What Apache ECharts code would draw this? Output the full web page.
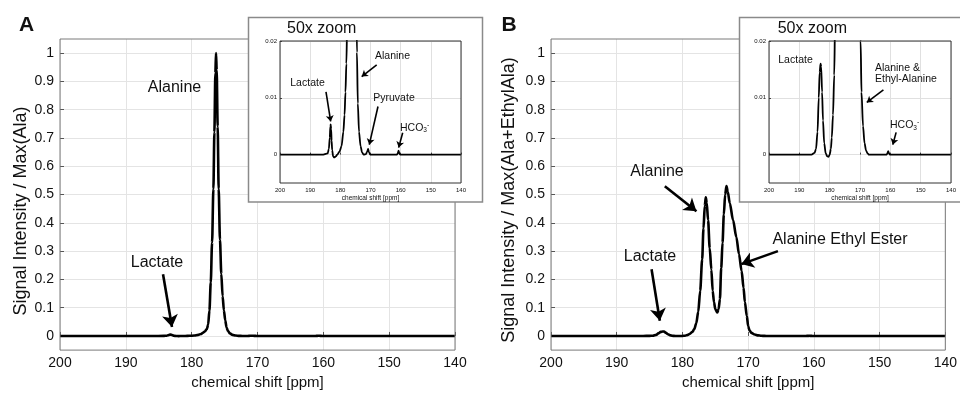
<!DOCTYPE html>
<html><head><meta charset="utf-8">
<script src="https://cdn.jsdelivr.net/npm/echarts@6/dist/echarts.min.js"></script>
<style>html,body{margin:0;padding:0;background:#fff}#c{width:960px;height:395px}</style>
</head><body><div id="c"></div>
<script>
// ---- data ----
const ppmA = [200, 186, 184.2, 183.8, 183.5, 183.3, 183.2, 183.05, 182.9, 182.7, 182.4, 182.0, 181.5, 181.0, 180.3, 179.6, 179.0, 178.6, 178.3, 178.0, 177.7, 177.5, 177.3, 177.1, 176.9, 176.7, 176.55, 176.4, 176.3, 176.2, 176.05, 175.9, 175.7, 175.5, 175.3, 175.1, 174.9, 174.7, 174.5, 174.2, 173.8, 173.3, 172.8, 172.3, 171.5, 171.1, 170.8, 170.5, 170.1, 165, 161.2, 160.9, 160.7, 160.5, 160.2, 140];
const sigA = [0, 0, 0.0002, 0.001, 0.003, 0.005, 0.0053, 0.0045, 0.0025, 0.0008, -0.0003, -0.0005, -0.0003, 0, 0.0005, 0.0015, 0.004, 0.007, 0.011, 0.016, 0.024, 0.04, 0.09, 0.19, 0.33, 0.52, 0.72, 0.93, 1.0, 0.94, 0.74, 0.52, 0.34, 0.22, 0.14, 0.09, 0.055, 0.03, 0.018, 0.009, 0.004, 0.0015, 0.0004, 0, 0.0001, 0.0005, 0.001, 0.0004, 0, 0, 0, 0.0003, 0.0007, 0.0003, 0, 0];
const ppmB = [200, 186, 185.0, 184.5, 184.0, 183.6, 183.3, 183.0, 182.8, 182.5, 182.2, 181.8, 181.3, 180.8, 180.4, 180.0, 179.6, 179.3, 178.9, 178.5, 178.2, 177.9, 177.6, 177.3, 177.0, 176.8, 176.6, 176.45, 176.3, 176.1, 175.85, 175.6, 175.4, 175.2, 175.0, 174.7, 174.5, 174.3, 174.1, 173.9, 173.7, 173.5, 173.3, 173.1, 172.8, 172.3, 171.8, 171.4, 171.0, 170.7, 170.5, 170.2, 170.0, 169.8, 169.5, 169.0, 168.5, 168.0, 167.5, 167.0, 161.2, 160.9, 160.7, 160.5, 160.2, 140];
const sigB = [0, 0, 0.0003, 0.001, 0.004, 0.010, 0.0145, 0.016, 0.0155, 0.011, 0.006, 0.002, 0.0002, -0.0003, -0.0004, 0, 0.001, 0.003, 0.007, 0.014, 0.024, 0.045, 0.085, 0.16, 0.27, 0.38, 0.46, 0.49, 0.47, 0.41, 0.31, 0.235, 0.16, 0.12, 0.095, 0.083, 0.095, 0.13, 0.24, 0.33, 0.43, 0.5, 0.53, 0.51, 0.47, 0.41, 0.35, 0.29, 0.23, 0.17, 0.12, 0.07, 0.035, 0.02, 0.011, 0.005, 0.002, 0.0007, 0.0002, 0, 0, 0.0003, 0.0006, 0.0003, 0, 0];

const xTicks = [200, 190, 180, 170, 160, 150, 140];
const yTicksMain = [0, 0.1, 0.2, 0.3, 0.4, 0.5, 0.6, 0.7, 0.8, 0.9, 1];
const yTicksInset = [0, 0.01, 0.02];

// arrows: [startPpm, startVal, endPpm, endVal]
const arrowsMainA = [[184.35, 0.218, 182.99, 0.032]];
const arrowsMainB = [[182.68, 0.529, 177.87, 0.441], [184.70, 0.236, 183.44, 0.054], [165.47, 0.300, 171.03, 0.254]];
const arrowsInsetA = [[184.75, 0.01105, 183.2, 0.00584], [167.95, 0.01579, 172.92, 0.01374], [167.52, 0.00847, 170.4, 0.00175], [159.33, 0.00386, 160.66, 0.00123]];
const arrowsInsetB = [[162.28, 0.0114, 167.76, 0.00918], [158.09, 0.00391, 159.18, 0.00175]];

const FONT = 'Liberation Sans, Arial, Helvetica, sans-serif';
const TXT = '#111';

function pairs(xs, ys) { return xs.map((x, i) => [x, ys[i]]); }
function arrowData(list) { return list.map(a => [{coord: [a[0], a[1]]}, {coord: [a[2], a[3]]}]); }
const fmt = v => String(Math.round(v * 1000) / 1000);

const grids = [
  {left: 60, top: 39, width: 395, height: 312, show: true, borderColor: '#7a7a7a', borderWidth: 1, backgroundColor: 'transparent', z: 5},
  {left: 280, top: 41, width: 181, height: 142, show: true, borderColor: '#333', borderWidth: 1, backgroundColor: 'transparent', zlevel: 1, z: 5},
  {left: 551, top: 39, width: 395, height: 312, show: true, borderColor: '#7a7a7a', borderWidth: 1, backgroundColor: 'transparent', z: 5},
  {left: 769, top: 41, width: 182, height: 142, show: true, borderColor: '#333', borderWidth: 1, backgroundColor: 'transparent', zlevel: 1, z: 5}
];

function xAxisMain(gi) {
  return {type: 'value', gridIndex: gi, min: 140, max: 200, interval: 10, inverse: true,
    axisLine: {show: false},
    axisTick: {show: true, inside: true, length: 4, lineStyle: {color: '#555'}},
    axisLabel: {fontSize: 14, color: TXT, margin: 6, fontFamily: FONT},
    splitLine: {show: true, lineStyle: {color: '#e4e4e4', width: 1}},
    name: 'chemical shift [ppm]', nameLocation: 'middle', nameGap: 24,
    nameTextStyle: {fontSize: 15, color: TXT, fontFamily: FONT}};
}
function yAxisMain(gi) {
  return {type: 'value', gridIndex: gi, min: -0.05, max: 1.05,
    axisLine: {show: false},
    axisTick: {show: true, inside: true, length: 4, lineStyle: {color: '#555'}, customValues: yTicksMain},
    axisLabel: {fontSize: 14, color: TXT, margin: 6, fontFamily: FONT, customValues: yTicksMain, formatter: fmt},
    splitLine: {show: true, lineStyle: {color: '#e4e4e4', width: 1}}};
}
function xAxisInset(gi) {
  return {type: 'value', gridIndex: gi, min: 140, max: 200, interval: 10, inverse: true, zlevel: 1, z: 3,
    axisLine: {show: false},
    axisTick: {show: true, inside: true, length: 2, lineStyle: {color: '#444'}},
    axisLabel: {fontSize: 6, color: TXT, margin: 4, fontFamily: FONT},
    splitLine: {show: true, lineStyle: {color: '#e0e0e0', width: 1}},
    name: 'chemical shift [ppm]', nameLocation: 'middle', nameGap: 12,
    nameTextStyle: {fontSize: 6.5, color: TXT, fontFamily: FONT}};
}
function yAxisInset(gi) {
  return {type: 'value', gridIndex: gi, min: -0.005, max: 0.02, zlevel: 1, z: 3,
    axisLine: {show: false},
    axisTick: {show: true, inside: true, length: 2, lineStyle: {color: '#444'}, customValues: yTicksInset},
    axisLabel: {fontSize: 6, color: TXT, margin: 3, fontFamily: FONT, customValues: yTicksInset, formatter: fmt},
    splitLine: {show: true, lineStyle: {color: '#e0e0e0', width: 1}}};
}

function spectrum(ai, data, width, arrows, arrowW, arrowSize, zlevel) {
  return {type: 'line', xAxisIndex: ai, yAxisIndex: ai, data: data, showSymbol: false,
    smooth: 0.3, smoothMonotone: 'x', clip: true, zlevel: zlevel, z: 4,
    lineStyle: {color: '#000', width: width}, silent: true,
    markLine: {silent: true, zlevel: zlevel, z: 6, symbol: ['none', 'arrow'], symbolSize: arrowSize, animation: false,
      lineStyle: {color: '#000', width: arrowW, type: 'solid'}, label: {show: false},
      emphasis: {disabled: true}, data: arrowData(arrows)}};
}

function text(str, x, y, size, opts) {
  opts = opts || {};
  return {type: 'text', x: x, y: y, zlevel: opts.zlevel || 0, z: 100, rotation: opts.rotation || 0,
    style: {text: str, fontSize: size, fontFamily: FONT, fill: TXT, fontWeight: opts.bold ? 'bold' : 'normal',
      align: opts.align || 'center', verticalAlign: 'middle', rich: opts.rich}};
}
const hcoRich = {
  b: {fontSize: 10.5, fontFamily: FONT, fill: TXT},
  s: {fontSize: 6.5, fontFamily: FONT, fill: TXT, padding: [6, 0, 0, 0]},
  p: {fontSize: 7, fontFamily: FONT, fill: TXT, padding: [0, 0, 6, 0]}
};

const chart = echarts.init(document.getElementById('c'), null, {renderer: 'canvas'});
chart.setOption({
  animation: false,
  backgroundColor: '#fff',
  grid: grids,
  xAxis: [xAxisMain(0), xAxisInset(1), xAxisMain(2), xAxisInset(3)],
  yAxis: [yAxisMain(0), yAxisInset(1), yAxisMain(2), yAxisInset(3)],
  series: [
    spectrum(0, pairs(ppmA, sigA), 2.6, arrowsMainA, 2.6, 12, 0),
    spectrum(1, pairs(ppmA, sigA), 1.8, arrowsInsetA, 1.6, 6, 1),
    spectrum(2, pairs(ppmB, sigB), 2.6, arrowsMainB, 2.6, 12, 0),
    spectrum(3, pairs(ppmB, sigB), 1.8, arrowsInsetB, 1.6, 6, 1)
  ],
  graphic: [
    {type: 'rect', zlevel: 1, z: 0, shape: {x: 248.5, y: 17.5, width: 234, height: 184.5},
      style: {fill: '#fff', stroke: '#8a8a8a', lineWidth: 1.5}},
    {type: 'rect', zlevel: 1, z: 0, shape: {x: 739.5, y: 17.5, width: 240, height: 184.5},
      style: {fill: '#fff', stroke: '#8a8a8a', lineWidth: 1.5}},
    text('A', 26.5, 25.5, 21, {bold: true}),
    text('B', 509, 25.5, 21, {bold: true}),
    text('Signal Intensity / Max(Ala)', 21.5, 211, 18, {rotation: Math.PI / 2}),
    text('Signal Intensity / Max(Ala+EthylAla)', 509, 200, 18, {rotation: Math.PI / 2}),
    text('Alanine', 174.5, 88, 16),
    text('Lactate', 157, 263, 16),
    text('Alanine', 657, 171.7, 16),
    text('Lactate', 650, 256.7, 16),
    text('Alanine Ethyl Ester', 840, 240, 16),
    text('50x zoom', 287, 29, 16, {align: 'left', zlevel: 1}),
    text('Lactate', 307.5, 83, 10.5, {zlevel: 1}),
    text('Alanine', 392.5, 56, 10.5, {zlevel: 1}),
    text('Pyruvate', 394, 97.7, 10.5, {zlevel: 1}),
    text('{b|HCO}{s|3}{p|-}', 400, 127.7, 10.5, {align: 'left', zlevel: 1, rich: hcoRich}),
    text('50x zoom', 777.7, 29, 16, {align: 'left', zlevel: 1}),
    text('Lactate', 795.5, 60, 10.5, {zlevel: 1}),
    text('Alanine &', 875, 67.7, 10.5, {align: 'left', zlevel: 1}),
    text('Ethyl-Alanine', 875, 79, 10.5, {align: 'left', zlevel: 1}),
    text('{b|HCO}{s|3}{p|-}', 890, 125, 10.5, {align: 'left', zlevel: 1, rich: hcoRich})
  ]
});
</script>
</body></html>
